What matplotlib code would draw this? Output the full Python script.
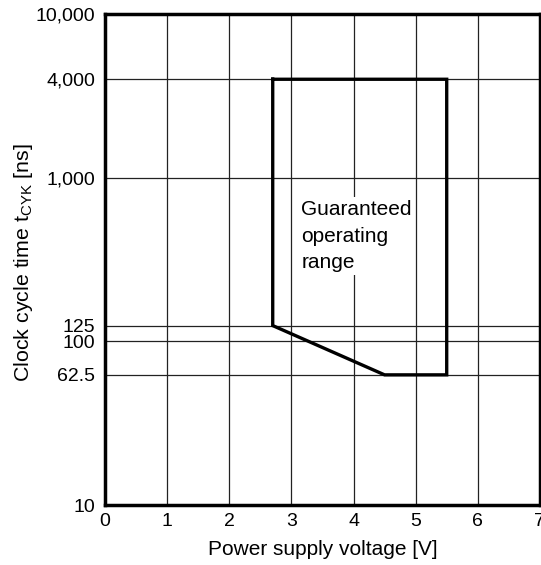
import matplotlib

matplotlib.use("Agg")

import matplotlib.pyplot as plt
from matplotlib.ticker import FixedLocator, NullLocator

# guaranteed operating range outline (voltage [V], clock cycle time [ns])
range_voltage = [2.7, 5.5, 5.5, 4.5, 2.7, 2.7]
range_cycle_ns = [4000, 4000, 62.5, 62.5, 125, 4000]

x_ticks = [0, 1, 2, 3, 4, 5, 6, 7]
y_ticks = [10, 62.5, 100, 125, 1000, 4000, 10000]
y_tick_labels = ["10", "62.5", "100", "125", "1,000", "4,000", "10,000"]

plt.rcParams["font.family"] = ["Liberation Sans", "DejaVu Sans"]

fig = plt.figure(figsize=(5.41, 5.65), dpi=100)
ax = fig.add_axes([0.194, 0.106, 0.804, 0.869])

ax.set_yscale("log")
ax.set_xlim(0, 7)
ax.set_ylim(10, 10000)

ax.xaxis.set_major_locator(FixedLocator(x_ticks))
ax.xaxis.set_minor_locator(NullLocator())
ax.yaxis.set_major_locator(FixedLocator(y_ticks))
ax.yaxis.set_minor_locator(NullLocator())
ax.set_yticklabels(y_tick_labels)
ax.set_xticklabels([str(t) for t in x_ticks])
ax.tick_params(length=0, labelsize=14, colors="black")
ax.tick_params(axis="y", pad=7)
ax.tick_params(axis="x", pad=6)

for x in x_ticks[1:-1]:
    ax.axvline(x, color="#222222", linewidth=0.9, zorder=1)
for y in y_ticks[1:-1]:
    ax.axhline(y, color="#222222", linewidth=0.9, zorder=1)

ax.plot(range_voltage, range_cycle_ns, color="black", linewidth=2.4,
        solid_joinstyle="miter", zorder=3)

ax.text(3.16, 440, "Guaranteed\noperating\nrange", fontsize=15,
        ha="left", va="center", linespacing=1.5, zorder=2,
        bbox=dict(facecolor="white", edgecolor="none", pad=2))

for side in ["left", "bottom", "top", "right"]:
    ax.spines[side].set_linewidth(2.5)
    ax.spines[side].set_color("black")

ax.set_xlabel("Power supply voltage [V]", fontsize=15, labelpad=7)
fig.text(24 / 541, 1 - 263 / 565,
         r"Clock cycle time t$_{\mathregular{CYK}}$ [ns]", fontsize=15.4,
         rotation=90, ha="center", va="center")

fig.savefig("out.png", dpi=100)
